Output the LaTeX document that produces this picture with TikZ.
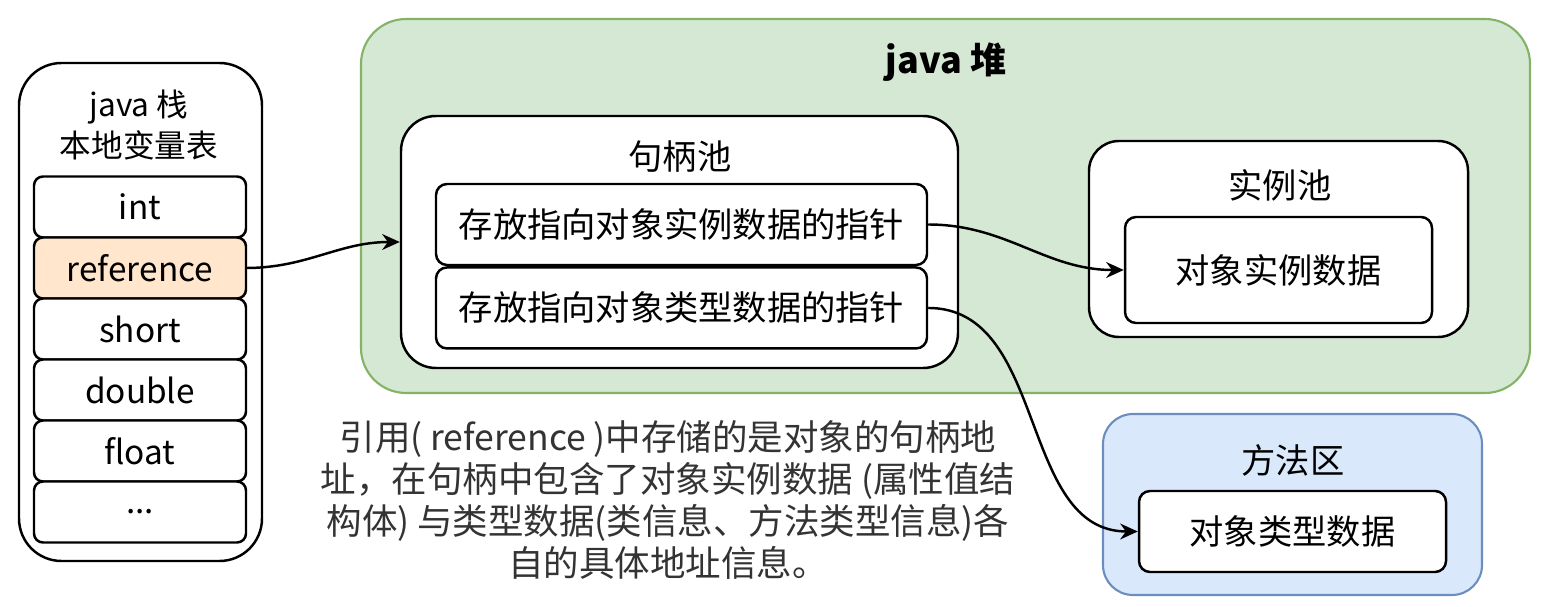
\documentclass[tikz,border=0pt]{standalone}
\usepackage{fontspec}
\setmainfont{Noto Sans CJK SC}
\usepackage{xcolor}
\definecolor{heapgreen}{HTML}{D5E8D4}
\definecolor{heapline}{HTML}{82B366}
\definecolor{methodblue}{HTML}{DAE8FC}
\definecolor{methodline}{HTML}{6C8EBF}
\definecolor{refpeach}{HTML}{FFE6CC}
\definecolor{notegray}{HTML}{333333}
\usetikzlibrary{arrows.meta, positioning}

\begin{document}
\begin{tikzpicture}[>={Stealth[length=10pt,width=9pt]}]

        % Estilos dos blocos
        \tikzstyle{area} = [rectangle, draw, line width=1.2pt, rounded corners=0.9cm, inner sep=0pt]
        \tikzstyle{pool} = [rectangle, draw, fill=white, line width=1.4pt, rounded corners=0.7cm, inner sep=0pt]
        \tikzstyle{cell} = [rectangle, draw, fill=white, line width=1.4pt, rounded corners=0.18cm, outer sep=0pt, minimum width=4.24cm, minimum height=1.22cm, font=\fontsize{19}{22}\selectfont]
        \tikzstyle{ptr} = [rectangle, draw, fill=white, line width=1.4pt, rounded corners=0.22cm, minimum width=9.82cm, minimum height=1.62cm, font=\fontsize{19.5}{22}\selectfont]
        \tikzstyle{data} = [ptr, minimum width=6.14cm]
        \tikzstyle{title} = [font=\fontsize{19.5}{22}\selectfont]
        \tikzstyle{conn} = [->, line width=1.4pt]

        \useasboundingbox (0,0) rectangle (30.84,12.12);

        % Pilha java (stack) com tabela de variaveis
        \node [pool, rounded corners=0.85cm, minimum width=4.86cm, minimum height=9.96cm] (stack) at (2.81,5.88) {};
        \node [align=center, font=\fontsize{18}{23}\selectfont] (stacktitle) at (2.78,9.62) {java 栈\\本地变量表};
        \node [cell] (int) at (2.8,7.98) {int};
        \node [cell, below=0pt of int, fill=refpeach] (ref) {reference};
        \node [cell, below=0pt of ref] (short) {short};
        \node [cell, below=0pt of short] (double) {double};
        \node [cell, below=0pt of double] (float) {float};
        \node [cell, below=0pt of float] (more) {...};

        % Heap java
        \node [area, fill=heapgreen, draw=heapline, minimum width=23.38cm, minimum height=7.48cm] (heap) at (18.91,8.0) {};
        \node [title, font=\fontsize{20.5}{24}\selectfont\bfseries] (heaptitle) at (18.92,10.88) {java 堆};

        % Pool de handles
        \node [pool, minimum width=11.14cm, minimum height=5.04cm] (handle) at (13.59,7.28) {};
        \node [title] (handletitle) at (13.6,8.98) {句柄池};
        \node [ptr] (ptrinst) at (13.63,7.63) {存放指向对象实例数据的指针};
        \node [ptr, below=0pt of ptrinst] (ptrtype) {存放指向对象类型数据的指针};

        % Pool de instancias
        \node [pool, rounded corners=0.6cm, minimum width=7.58cm, minimum height=3.92cm] (instpool) at (25.57,7.34) {};
        \node [title] (insttitle) at (25.6,8.42) {实例池};
        \node [data, minimum height=2.12cm] (instdata) at (25.57,6.72) {对象实例数据};

        % Area de metodos
        \node [area, fill=methodblue, draw=methodline, rounded corners=0.6cm, minimum width=7.58cm, minimum height=3.62cm] (method) at (25.85,2.03) {};
        \node [title] (methodtitle) at (25.86,2.92) {方法区};
        \node [data] (typedata) at (25.85,1.49) {对象类型数据};

        % Texto explicativo
        \node [align=center, text=notegray, font=\fontsize{20.2}{24}\selectfont] (note) at (13.36,2.12)
            {引用( reference )中存储的是对象的句柄地\\址，在句柄中包含了对象实例数据 (属性值结\\构体) 与类型数据(类信息、方法类型信息)各\\自的具体地址信息。};

        % ---------------------------------------------------------
        % Conexoes
        % ---------------------------------------------------------
        \draw [conn] (ref.east) to[out=0, in=180] (handle.west);
        \draw [conn] (ptrinst.east) to[out=0, in=180] (instdata.west);
        \draw [conn] (ptrtype.east) to[out=0, in=180] (typedata.west);
    \end{tikzpicture}
\end{document}
